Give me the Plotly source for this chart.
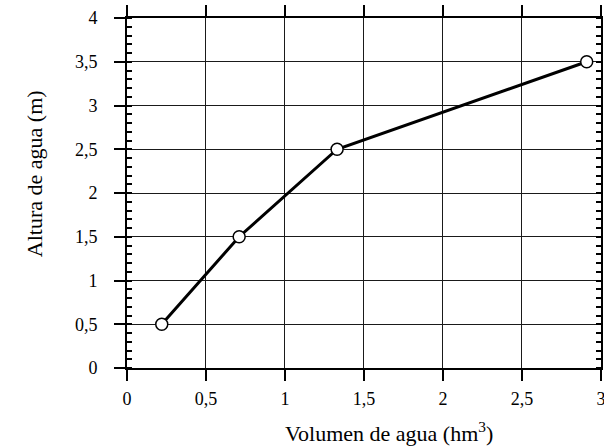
import plotly.graph_objects as go

volumen = [0.22, 0.71, 1.33, 2.91]
altura = [0.5, 1.5, 2.5, 3.5]

x_tickvals = [0, 0.5, 1, 1.5, 2, 2.5, 3]
x_ticktext = ["0", "0,5", "1", "1,5", "2", "2,5", "3"]
y_tickvals = [0, 0.5, 1, 1.5, 2, 2.5, 3, 3.5, 4]
y_ticktext = ["0", "0,5", "1", "1,5", "2", "2,5", "3", "3,5", "4"]

x_title = "Volumen de agua (hm<sup>3</sup>)"
y_title = "Altura de agua (m)"

font_family = "Liberation Serif"

fig = go.Figure()
fig.add_trace(go.Scatter(
    x=volumen, y=altura, mode="lines+markers",
    line=dict(color="black", width=3),
    marker=dict(size=12, color="white", line=dict(color="black", width=1.5)),
    showlegend=False, cliponaxis=False,
))
fig.add_trace(go.Scatter(x=[None], y=[None], yaxis="y2", xaxis="x2", showlegend=False, hoverinfo="skip"))

fig.update_layout(
    width=604, height=446,
    margin=dict(l=127, r=3, t=18, b=78, autoexpand=False),
    paper_bgcolor="white", plot_bgcolor="white",
    font=dict(family=font_family, size=18, color="black"),
    xaxis=dict(
        range=[0, 3.0005], tickvals=x_tickvals, ticktext=x_ticktext,
        showgrid=True, gridcolor="#1a1a1a", gridwidth=1.3,
        zeroline=False, showline=True, linecolor="black", linewidth=2,
        ticks="outside", ticklen=11, tickwidth=2, tickcolor="black",
        mirror="allticks", ticklabelstandoff=2, automargin=False,
        ticklabeloverflow="allow",
        tickfont=dict(family=font_family, size=18),
    ),
    yaxis=dict(
        range=[0, 4], tickvals=y_tickvals, ticktext=y_ticktext,
        showgrid=True, gridcolor="#1a1a1a", gridwidth=1.3,
        zeroline=False, showline=True, linecolor="black", linewidth=2,
        ticks="outside", ticklen=11, tickwidth=2, tickcolor="black",
        ticklabelstandoff=13, automargin=False,
        tickfont=dict(family=font_family, size=18),
        minor=dict(ticks="inside", ticklen=5, tickwidth=1.5, tickcolor="black", dtick=0.1, tick0=0, showgrid=False),
    ),
    xaxis2=dict(range=[0, 3.0005], overlaying="x", visible=False),
    yaxis2=dict(
        range=[0, 4], overlaying="y", side="right", anchor="x",
        showgrid=False, zeroline=False, showline=True, linecolor="black", linewidth=2,
        ticks="", showticklabels=False, tickvals=y_tickvals, automargin=False,
        minor=dict(ticks="inside", ticklen=5, tickwidth=1.5, tickcolor="black", dtick=0.1, tick0=0, showgrid=False),
    ),
    annotations=[
        dict(text=x_title, xref="paper", yref="paper", x=0.552, y=-0.183,
             xanchor="center", yanchor="middle", showarrow=False,
             font=dict(family=font_family, size=22)),
        dict(text=y_title, xref="paper", yref="paper", x=-0.196, y=0.554,
             xanchor="center", yanchor="middle", showarrow=False, textangle=-90,
             font=dict(family=font_family, size=22)),
    ],
)

fig.write_html("out.html", config={"displayModeBar": False})

with open("out.html", encoding="utf-8") as f:
    html = f.read()
html = html.replace("<head>", "<head><style>html,body{margin:0;padding:0;overflow:hidden;}</style>", 1)
with open("out.html", "w", encoding="utf-8") as f:
    f.write(html)
